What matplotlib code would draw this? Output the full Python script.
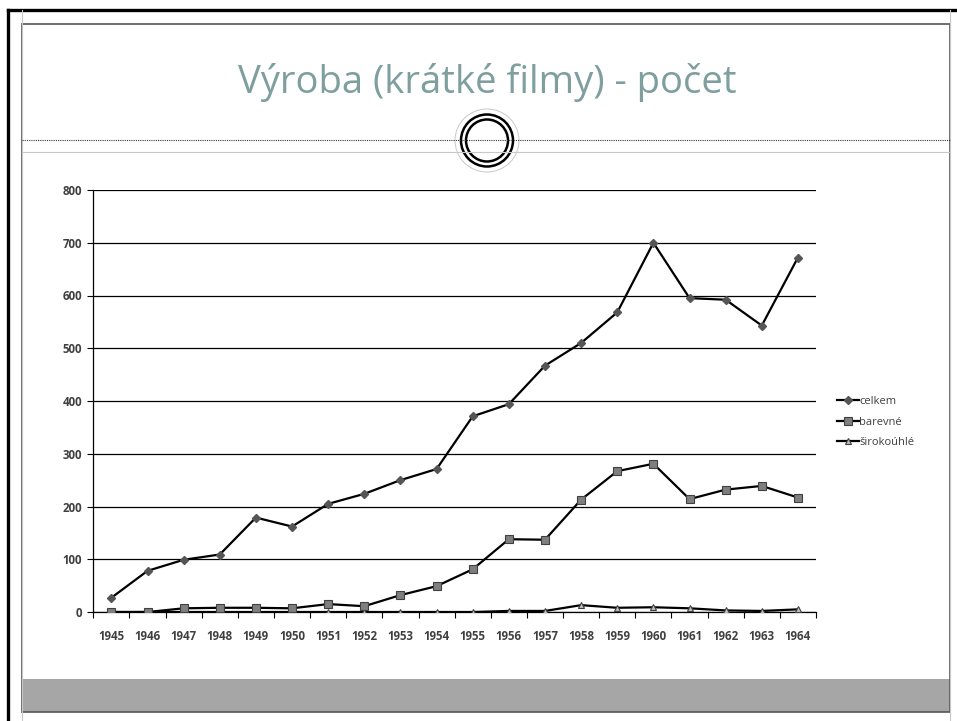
import numpy as np
import matplotlib.pyplot as plt
from matplotlib.patches import Rectangle, Circle, Ellipse

years = [str(y) for y in range(1945, 1965)]
celkem = [27, 78, 99, 109, 179, 162, 205, 224, 250, 271,
          371, 394, 467, 510, 568, 700, 595, 592, 543, 672]
barevne = [0, 0, 7, 8, 8, 7, 15, 11, 32, 49,
           81, 138, 137, 213, 267, 281, 214, 232, 239, 217]
sirokouhle = [0, 0, 0, 0, 0, 0, 0, 0, 0, 0,
              0, 2, 2, 13, 8, 9, 7, 3, 2, 5]
labels = ['celkem', 'barevné', 'širokoúhlé']
title = 'Výroba (krátké filmy) - počet'

W, H = 957, 721
fig = plt.figure(figsize=(W / 100, H / 100), dpi=100)

# slide background / decorations in pixel coords
bg = fig.add_axes([0, 0, 1, 1])
bg.set_xlim(0, W)
bg.set_ylim(H, 0)
bg.axis('off')

bg.plot([8, 8], [10, H], color='black', lw=2.4)
bg.plot([8, W], [10, 10], color='black', lw=2.4)
bg.plot([22, 22], [10, H], color='#c8c8c8', lw=0.8)
bg.plot([950, 950], [10, H], color='#c8c8c8', lw=0.8)
bg.add_patch(Rectangle((22, 679), 928, 33, facecolor='#a6a6a6', edgecolor='none'))
bg.add_patch(Rectangle((22, 24), 928, 688, facecolor='none', edgecolor='#555555', lw=1.2))
bg.plot([22, 950], [139.5, 139.5], color='#333333', lw=0.8, ls=(0, (1, 1)))
bg.plot([22, 950], [151.5, 151.5], color='#c8c8c8', lw=0.8)
bg.add_patch(Ellipse((487, 140.5), 64, 63, facecolor='white', edgecolor='#c8c8c8', lw=0.7))
bg.add_patch(Circle((487, 140.5), 26, facecolor='none', edgecolor='black', lw=1.8))
bg.add_patch(Circle((487, 140.5), 21, facecolor='none', edgecolor='black', lw=1.8))

bg.text(487, 82, title, ha='center', va='center', fontsize=27.5,
        color='#7f9f9f', family='Open Sans')

# chart
ax = fig.add_axes([93.3 / W, 1 - 612 / H, (816 - 93.3) / W, (612 - 190) / H])
x = np.arange(len(years))
ax.plot(x, celkem, color='black', lw=1.6, marker='D', ms=4,
        mfc='#555555', mec='#555555', label=labels[0], zorder=5)
ax.plot(x, barevne, color='black', lw=1.6, marker='s', ms=5.2,
        mfc='#7f7f7f', mec='#404040', mew=0.8, label=labels[1], zorder=4)
ax.plot(x, sirokouhle, color='black', lw=1.6, marker='^', ms=5,
        mfc='#bfbfbf', mec='#404040', mew=0.8, label=labels[2], zorder=3)

ax.set_xlim(-0.5, len(years) - 0.5)
ax.set_ylim(0, 800)
ax.set_yticks(range(0, 801, 100))
ax.set_xticks(x)
ax.set_xticklabels(years)
ax.set_xticks(np.arange(-0.5, len(years), 1), minor=True)
ax.grid(axis='y', color='black', lw=0.9)
ax.set_axisbelow(True)
for s in ['top', 'right']:
    ax.spines[s].set_visible(False)
ax.spines['left'].set_linewidth(0.9)
ax.spines['bottom'].set_linewidth(0.9)
ax.tick_params(axis='x', which='major', length=0, pad=13)
ax.tick_params(axis='x', which='minor', length=4, width=0.8, direction='out')
ax.tick_params(axis='y', length=4, width=0.8, pad=4)
for t in ax.get_xticklabels() + ax.get_yticklabels():
    t.set_fontsize(8.3)
    t.set_fontweight('bold')
    t.set_color('#404040')
    t.set_family('Open Sans')

leg = ax.legend(loc='center left', bbox_to_anchor=(1.015, 0.45), frameon=False,
                handlelength=2.0, handletextpad=0.0, labelspacing=0.85,
                prop={'family': 'Open Sans', 'size': 8})
for t in leg.get_texts():
    t.set_color('#404040')

fig.savefig('out.png', dpi=100)
